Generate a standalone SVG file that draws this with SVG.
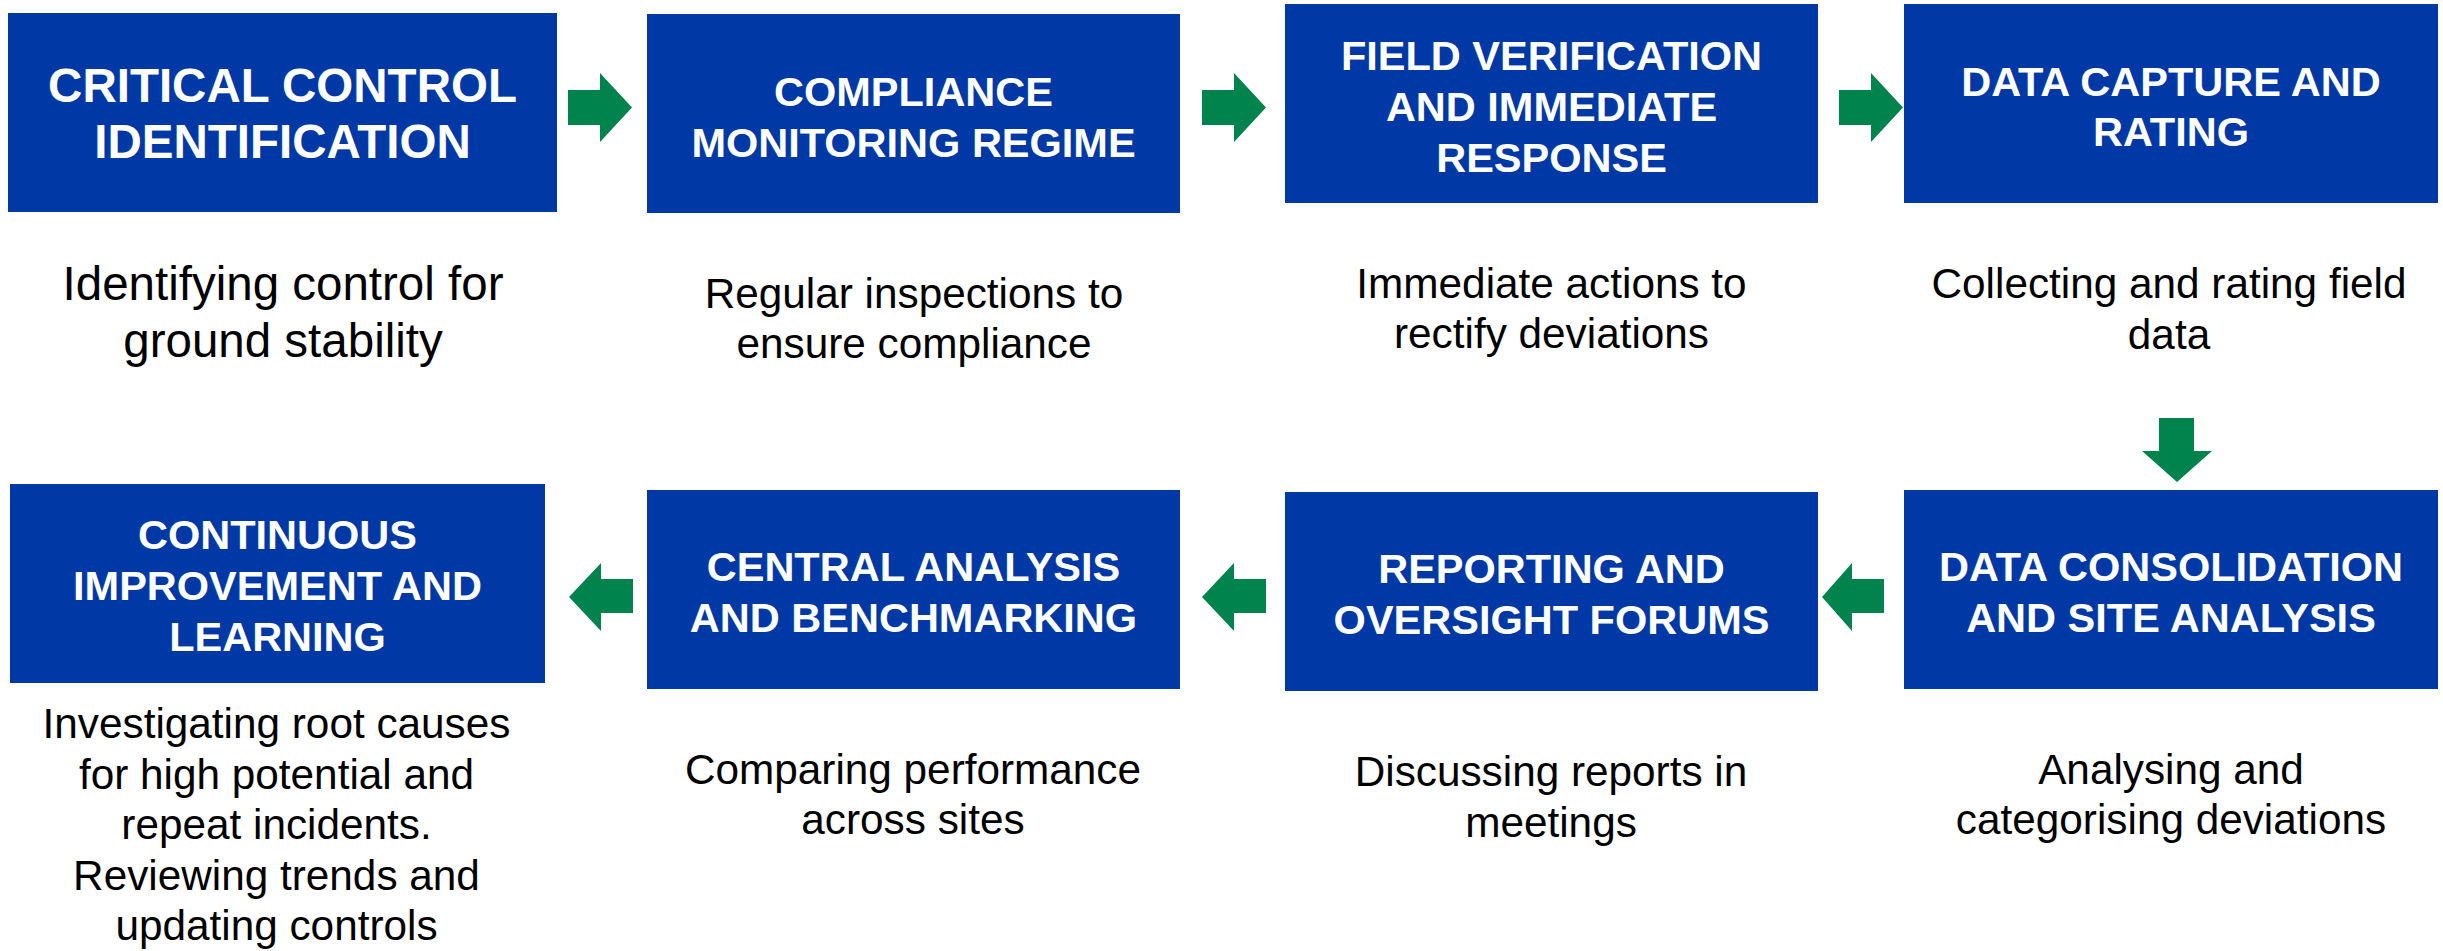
<svg xmlns="http://www.w3.org/2000/svg" width="2443" height="951" viewBox="0 0 2443 951">
<style>
.box{fill:#0039A6;}
.t{font-family:"Liberation Sans",Arial,sans-serif;font-weight:bold;fill:#FFFFFF;text-anchor:middle;font-size:41.5px;}
.t1{font-size:47.5px;}
.d{font-family:"Liberation Sans",Arial,sans-serif;fill:#000000;text-anchor:middle;font-size:42.3px;}
.d1{font-size:47.5px;}
.arr{fill:#00834C;}
</style>
<rect width="2443" height="951" fill="#FFFFFF"/>
<g id="n1">
<rect class="box" x="8" y="13" width="549" height="199"/>
<text class="t t1" x="282.5" y="102">CRITICAL CONTROL</text>
<text class="t t1" x="282.5" y="158">IDENTIFICATION</text>
<text class="d d1" x="283" y="300">Identifying control for</text>
<text class="d d1" x="283" y="357">ground stability</text>
</g>
<g id="n2">
<rect class="box" x="647" y="14" width="533" height="199"/>
<text class="t" x="913.5" y="106">COMPLIANCE</text>
<text class="t" x="913.5" y="157">MONITORING REGIME</text>
<text class="d" x="914" y="308">Regular inspections to</text>
<text class="d" x="914" y="358">ensure compliance</text>
</g>
<g id="n3">
<rect class="box" x="1285" y="4" width="533" height="199"/>
<text class="t" x="1551.5" y="70">FIELD VERIFICATION</text>
<text class="t" x="1551.5" y="121">AND IMMEDIATE</text>
<text class="t" x="1551.5" y="172">RESPONSE</text>
<text class="d" x="1551.5" y="298">Immediate actions to</text>
<text class="d" x="1551.5" y="348">rectify deviations</text>
</g>
<g id="n4">
<rect class="box" x="1904" y="4" width="534" height="199"/>
<text class="t" x="2171" y="96">DATA CAPTURE AND</text>
<text class="t" x="2171" y="146">RATING</text>
<text class="d" x="2169" y="298">Collecting and rating field</text>
<text class="d" x="2169" y="349">data</text>
</g>
<g id="n5">
<rect class="box" x="1904" y="490" width="534" height="199"/>
<text class="t" x="2171" y="581">DATA CONSOLIDATION</text>
<text class="t" x="2171" y="632">AND SITE ANALYSIS</text>
<text class="d" x="2171" y="784">Analysing and</text>
<text class="d" x="2171" y="834">categorising deviations</text>
</g>
<g id="n6">
<rect class="box" x="1285" y="492" width="533" height="199"/>
<text class="t" x="1551.5" y="583">REPORTING AND</text>
<text class="t" x="1551.5" y="634">OVERSIGHT FORUMS</text>
<text class="d" x="1551" y="786">Discussing reports in</text>
<text class="d" x="1551" y="837">meetings</text>
</g>
<g id="n7">
<rect class="box" x="647" y="490" width="533" height="199"/>
<text class="t" x="913.5" y="581">CENTRAL ANALYSIS</text>
<text class="t" x="913.5" y="632">AND BENCHMARKING</text>
<text class="d" x="913" y="784">Comparing performance</text>
<text class="d" x="913" y="834">across sites</text>
</g>
<g id="n8">
<rect class="box" x="10" y="484" width="535" height="199"/>
<text class="t" x="277.5" y="549">CONTINUOUS</text>
<text class="t" x="277.5" y="600">IMPROVEMENT AND</text>
<text class="t" x="277.5" y="651">LEARNING</text>
<text class="d" x="276.5" y="738">Investigating root causes</text>
<text class="d" x="276.5" y="789">for high potential and</text>
<text class="d" x="276.5" y="839">repeat incidents.</text>
<text class="d" x="276.5" y="890">Reviewing trends and</text>
<text class="d" x="276.5" y="940">updating controls</text>
</g>
<g id="connectors">
<polygon class="arr" points="568,90 600,90 600,73 632,107.5 600,142 600,125 568,125"/>
<polygon class="arr" points="1202,90 1234,90 1234,73 1266,107.5 1234,142 1234,125 1202,125"/>
<polygon class="arr" points="1839,90 1871,90 1871,73 1903,107.5 1871,142 1871,125 1839,125"/>
<polygon class="arr" points="2159,418 2194,418 2194,451 2212,451 2177,482 2142,451 2159,451"/>
<polygon class="arr" points="1884,579 1852,579 1852,563 1822,597 1852,631 1852,613 1884,613"/>
<polygon class="arr" points="1266,579 1234,579 1234,563 1202,597 1234,631 1234,613 1266,613"/>
<polygon class="arr" points="633,579 601,579 601,563 569,597 601,631 601,613 633,613"/>
</g>
</svg>
